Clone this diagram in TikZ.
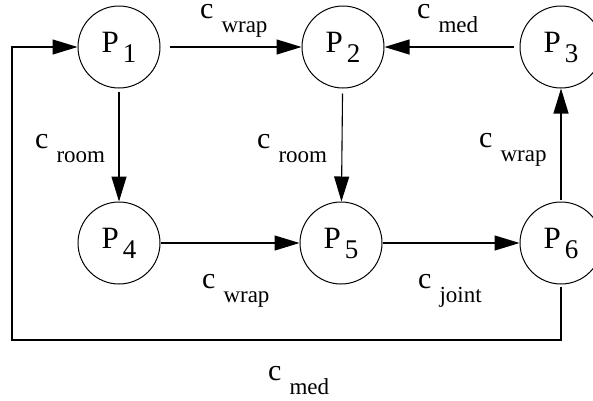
\documentclass[tikz,border=0pt]{standalone}
\usepackage{fontspec}
\setmainfont{Liberation Serif}
\usetikzlibrary{arrows.meta}
\newcommand\clab[1]{{\fontsize{30}{30}\selectfont c}\hspace{8pt}\raisebox{-14pt}{\fontsize{23}{23}\selectfont #1}}
\newcommand\pname[1]{{\fontsize{31}{31}\selectfont P}\hspace{4pt}\raisebox{-10pt}{\fontsize{27}{27}\selectfont #1}}
\begin{document}
\begin{tikzpicture}[x=1pt,y=-1pt,
  proc/.style={draw,circle,line width=1pt,minimum size=82pt,inner sep=0pt},
  lbl/.style={anchor=base west,inner sep=0pt},
  flow/.style={line width=1.1pt,-{Triangle[length=25pt,width=15pt]}}]
\useasboundingbox (0,0) rectangle (593,400);
\node[proc] (P1) at (119,47) {\pname{1}};
\node[proc] (P2) at (343,47) {\pname{2}};
\node[proc] (P3) at (561,47) {\pname{3}};
\node[proc] (P4) at (119,243) {\pname{4}};
\node[proc] (P5) at (341,243) {\pname{5}};
\node[proc] (P6) at (561,243) {\pname{6}};
% connectors
\draw[flow,shorten <=9pt] (P1) -- (P2);
\draw[flow,shorten <=6pt] (P3) -- (P2);
\draw[flow,shorten <=3pt] (P1) -- (P4);
\draw[flow,shorten <=5pt] (P2) -- (P5);
\draw[flow,shorten <=2pt] (P6) -- (P3);
\draw[flow] (P4) -- (P5);
\draw[flow] (P5) -- (P6);
\coordinate (lb) at (12,340);
\draw[flow,shorten <=2pt] (P6.south) |- (lb) |- (P1.west);
% labels
\node[lbl] (l12) at (200,18) {\clab{wrap}};
\node[lbl] (l32) at (417,18) {\clab{med}};
\node[lbl] (l14) at (35,148) {\clab{room}};
\node[lbl] (l25) at (257,148) {\clab{room}};
\node[lbl] (l63) at (479,147) {\clab{wrap}};
\node[lbl] (l45) at (202,288) {\clab{wrap}};
\node[lbl] (l56) at (418,288) {\clab{joint}};
\node[lbl] (l61) at (268,380) {\clab{med}};
\end{tikzpicture}
\end{document}
